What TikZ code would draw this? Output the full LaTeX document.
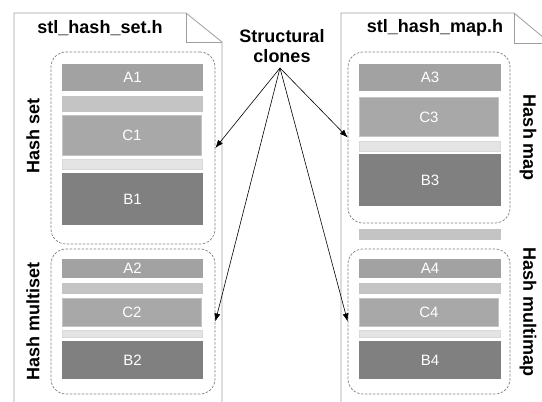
\documentclass[tikz,border=0pt]{standalone}
\usepackage{fontspec}
\setmainfont{Liberation Sans}
\usetikzlibrary{arrows.meta}
\definecolor{barA}{HTML}{A2A2A2}
\definecolor{barL}{HTML}{C4C4C4}
\definecolor{barC}{HTML}{A8A8A8}
\definecolor{barV}{HTML}{E4E4E4}
\definecolor{barB}{HTML}{808080}
\tikzset{
  hoja/.style={draw=gray!75, line width=0.8pt},
  grupo/.style={draw=gray, line width=0.7pt, dash pattern=on 2.5pt off 1.5pt, rounded corners=15pt, inner sep=0pt},
  barra/.style={inner sep=0pt, outer sep=0pt, text=white, font=\fontsize{15}{17}\selectfont},
  etiqueta/.style={font=\fontsize{18}{20}\selectfont\bfseries},
  flecha/.style={-{Latex[length=8pt,width=6pt]}, line width=0.6pt}
}
\begin{document}
\begin{tikzpicture}[x=1pt, y=-1pt]
    \useasboundingbox[fill=white] (0,0) rectangle (542,402);
    \clip (0,0) rectangle (542,402);

    % Hojas
    \draw[hoja] (14,402) -- (14,13) -- (186,13) -- (222,42) -- (222,402);
    \draw[hoja] (186,13) -- (186,42) -- (222,42);
    \draw[hoja] (341,402) -- (341,13) -- (514,13) -- (550,43) -- (550,402);
    \draw[hoja] (514,13) -- (514,43) -- (550,43);
    \node[etiqueta] (hset) at (100,28) {stl\_hash\_set.h};
    \node[etiqueta] (hmap) at (435,28) {stl\_hash\_map.h};

    % Grupos
    \node[grupo, minimum width=164pt, minimum height=192pt] (hs) at (133,148) {};
    \node[grupo, minimum width=164pt, minimum height=145pt] (hms) at (133,321.5) {};
    \node[grupo, minimum width=162pt, minimum height=171pt] (hm) at (429,137.5) {};
    \node[grupo, minimum width=162pt, minimum height=145pt] (hmm) at (429,321.5) {};

    \node[etiqueta, rotate=90] (lhs) at (33,136) {Hash set};
    \node[etiqueta, rotate=90] (lhms) at (33,321) {Hash multiset};
    \node[etiqueta, rotate=-90] (lhm) at (528,138) {Hash map};
    \node[etiqueta, rotate=-90] (lhmm) at (528,312) {Hash multimap};

    % Hash set
    \node[barra, fill=barA, minimum width=141pt, minimum height=27pt] (a1) at (132.5,77.5) {A1};
    \node[barra, fill=barL, minimum width=141pt, minimum height=16pt] (l1) at (132.5,104) {};
    \node[barra, fill=barC, draw=barL, line width=1pt, minimum width=139pt, minimum height=40pt] (c1) at (132,135.5) {C1};
    \node[barra, fill=barV, draw=gray!30, minimum width=140pt, minimum height=10pt] (v1) at (132.5,164) {};
    \node[barra, fill=barB, minimum width=141pt, minimum height=52pt] (b1) at (132.5,199) {B1};

    % Hash multiset
    \node[barra, fill=barA, minimum width=141pt, minimum height=19pt] (a2) at (132.5,268.5) {A2};
    \node[barra, fill=barL, minimum width=141pt, minimum height=11pt] (l2) at (132.5,288.5) {};
    \node[barra, fill=barC, draw=barL, line width=1pt, minimum width=139pt, minimum height=28pt] (c2) at (132,312.5) {C2};
    \node[barra, fill=barV, draw=gray!30, minimum width=140pt, minimum height=7pt] (v2) at (132.5,333.5) {};
    \node[barra, fill=barB, minimum width=141pt, minimum height=38pt] (b2) at (132.5,360) {B2};

    % Hash map
    \node[barra, fill=barA, minimum width=142pt, minimum height=27pt] (a3) at (430,77.5) {A3};
    \node[barra, fill=barC, draw=barL, line width=1pt, minimum width=139pt, minimum height=39pt] (c3) at (429,117) {C3};
    \node[barra, fill=barV, draw=gray!30, minimum width=141pt, minimum height=10pt] (v3) at (430,146) {};
    \node[barra, fill=barB, minimum width=142pt, minimum height=52pt] (b3) at (430,180) {B3};
    \node[barra, fill=barL, minimum width=142pt, minimum height=11pt] (l3) at (430,234.5) {};

    % Hash multimap
    \node[barra, fill=barA, minimum width=142pt, minimum height=19pt] (a4) at (430,268.5) {A4};
    \node[barra, fill=barL, minimum width=142pt, minimum height=11pt] (l4) at (430,288.5) {};
    \node[barra, fill=barC, draw=barL, line width=1pt, minimum width=139pt, minimum height=28pt] (c4) at (429,312.5) {C4};
    \node[barra, fill=barV, draw=gray!30, minimum width=141pt, minimum height=7pt] (v4) at (430,333.5) {};
    \node[barra, fill=barB, minimum width=142pt, minimum height=38pt] (b4) at (430,360) {B4};

    % Clones
    \node[etiqueta, align=center] (clones) at (282,46) {Structural\\clones};
    \coordinate (origen) at (280,68);
    \foreach \g in {hs,hms}
        \draw[flecha] (origen) -- (\g.east);
    \foreach \g in {hm,hmm}
        \draw[flecha] (origen) -- (\g.west);
\end{tikzpicture}
\end{document}
